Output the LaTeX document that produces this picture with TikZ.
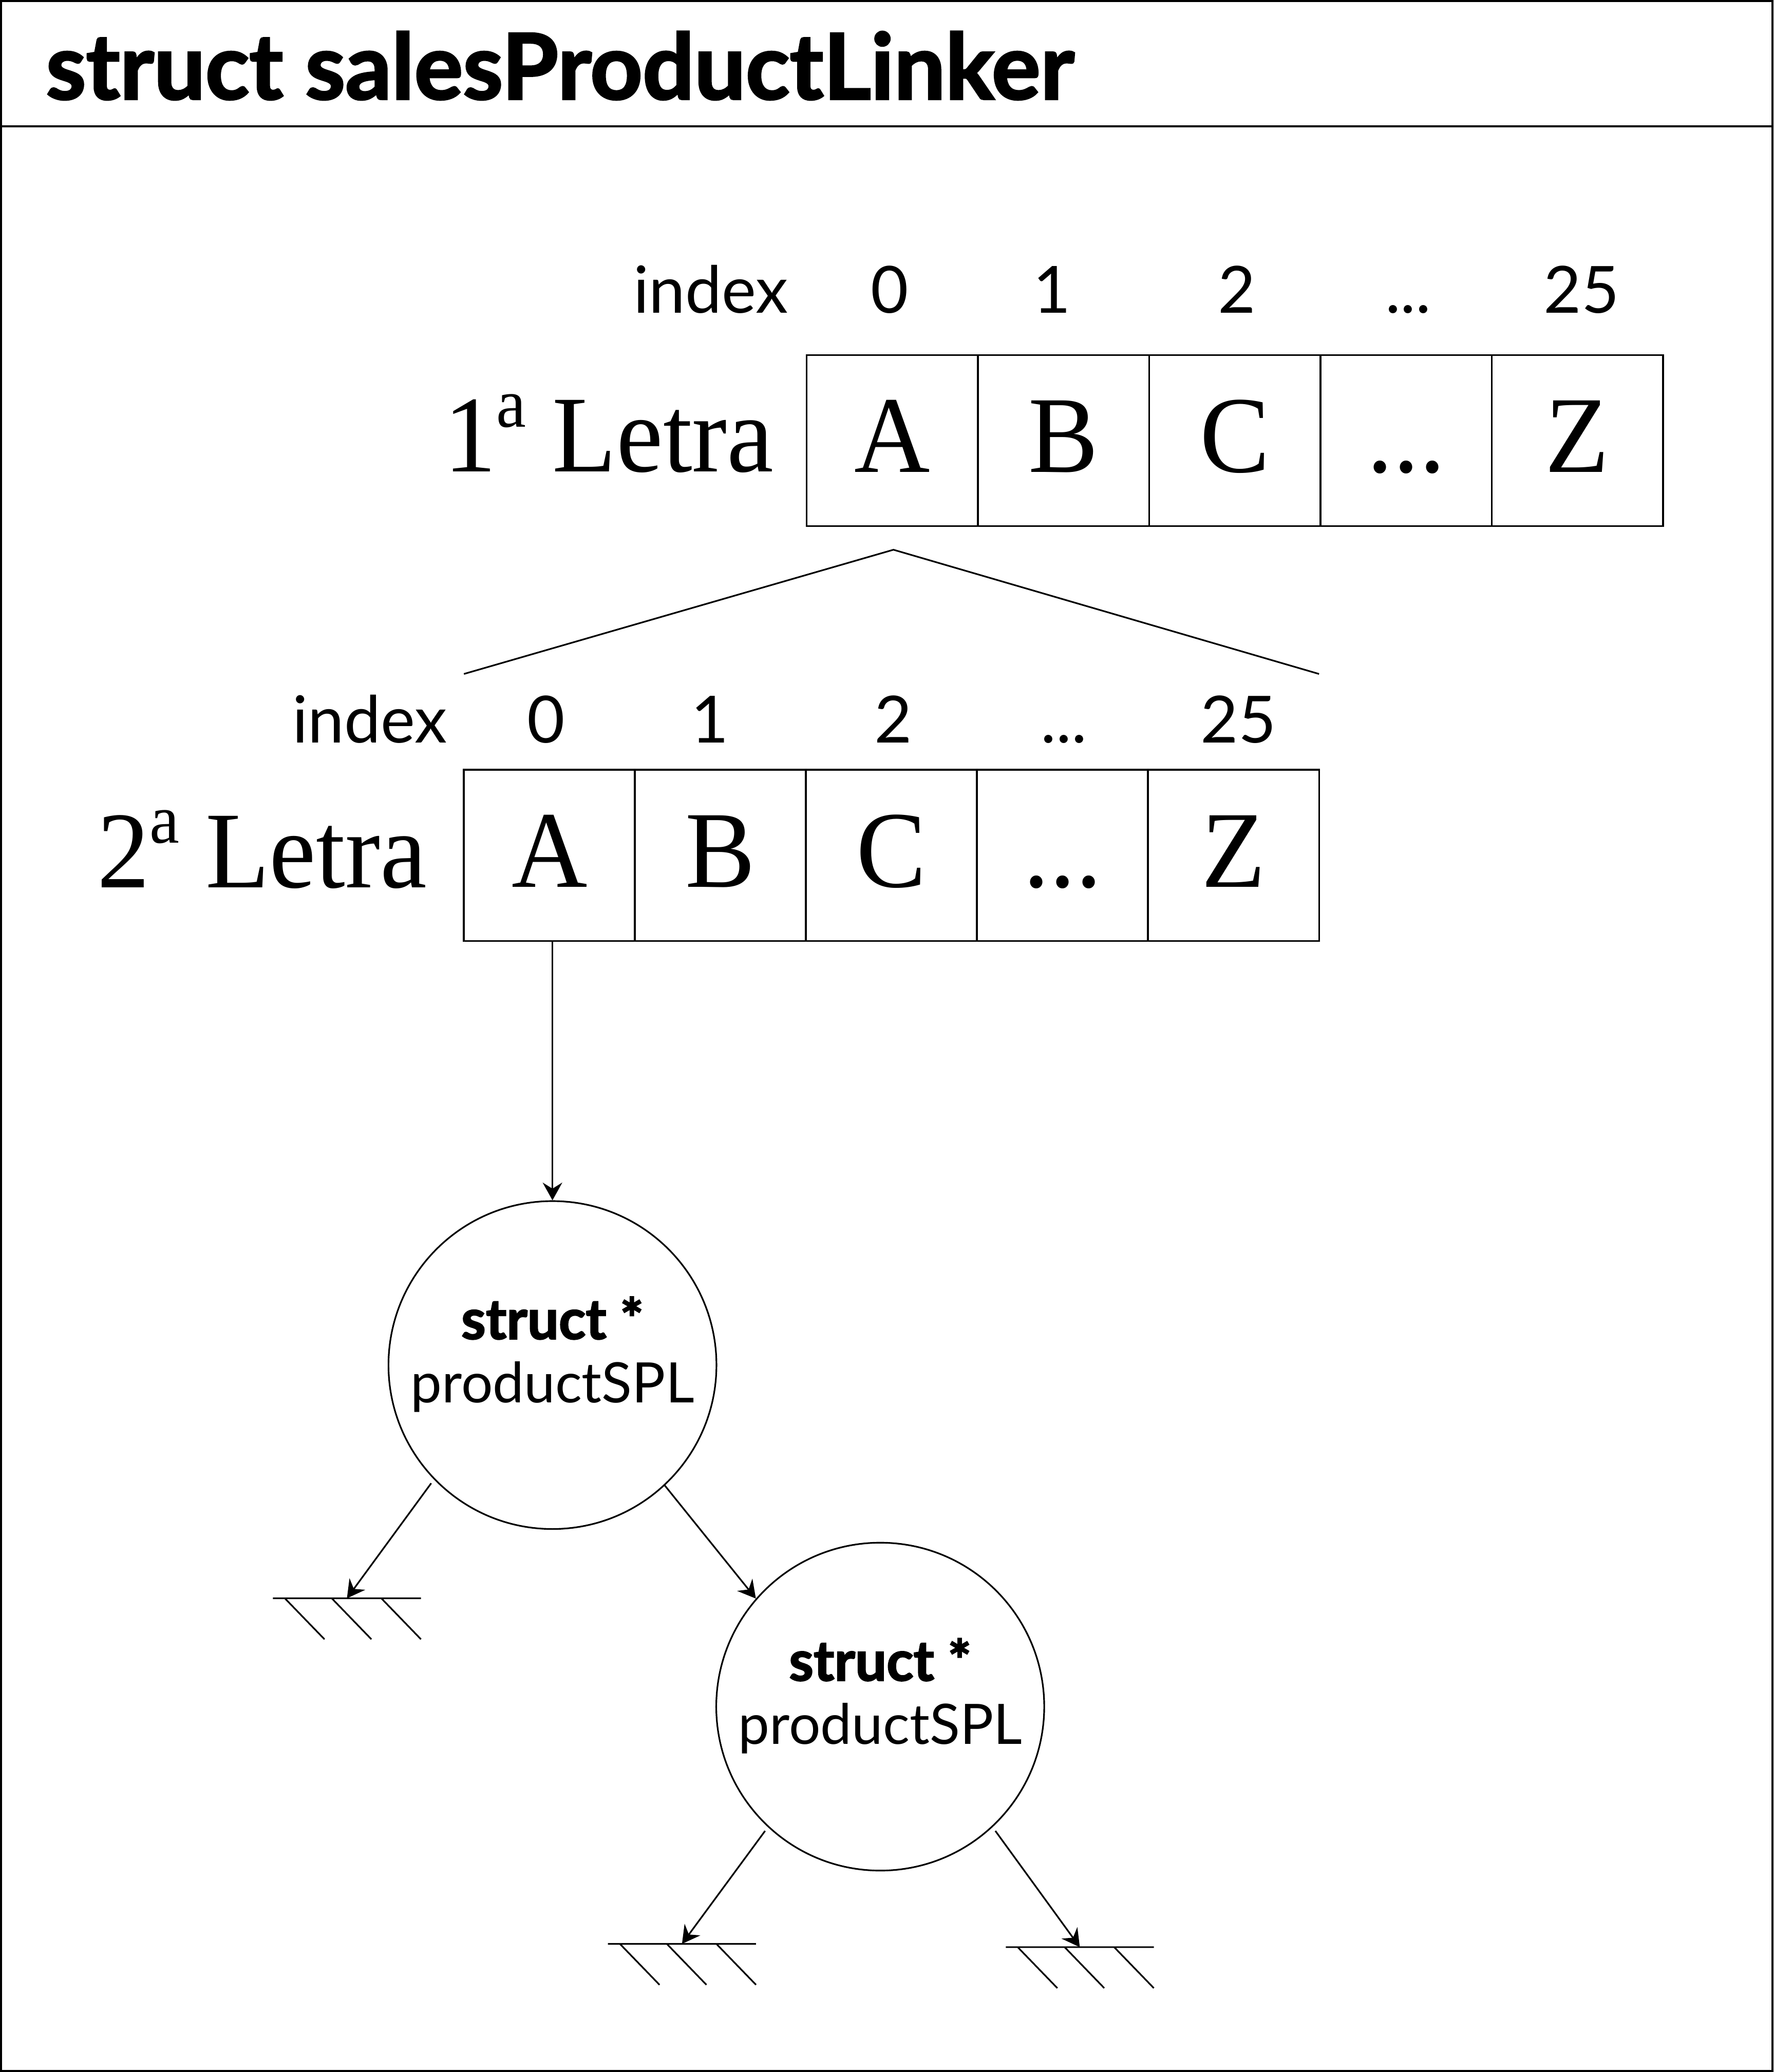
\documentclass[tikz,border=0pt]{standalone}
\usepackage{fontspec}
\setmainfont{Liberation Serif}[FakeStretch=0.96]
\newfontfamily\avenir{Lato}[BoldFeatures={FakeBold=2.2}]
\usetikzlibrary{arrows.meta}

\newcommand{\ordinal}[1]{#1{\fontsize{15}{15}\selectfont\raisebox{9.6pt}{a}}}

\tikzset{
        cell/.style={draw, minimum width=1.295cm, minimum height=1.294cm, inner sep=0pt,
                text height=0.48cm, text depth=0pt, font=\fontsize{23.5}{28}\selectfont},
        idx/.style={anchor=base, inner sep=0pt, font=\avenir\fontsize{14}{16}\selectfont},
        rowname/.style={anchor=base east, inner sep=0pt, font=\fontsize{23.5}{28}\selectfont},
        prod/.style={draw, circle, minimum size=2.48cm, inner sep=0pt, align=center,
                text depth=6.6pt, font=\avenir\fontsize{12}{13.7}\selectfont}
}

\begin{document}
\begin{tikzpicture}[x=0.01cm, y=-0.01cm, line width=0.35pt,
        >={Stealth[length=3.8pt, width=4.2pt, inset=1.3pt]}]
        \useasboundingbox (0, 0) rectangle (1342, 1568);

        % Draw the frame and the title
        \draw[line width=0.45pt] (0.8, 0.8) rectangle (1341.2, 1567.2);
        \draw[line width=0.45pt] (0, 95.5) -- (1342, 95.5);
        \node[anchor=base west, inner sep=0pt, font=\avenir\bfseries\fontsize{19.6}{22}\selectfont]
                (title) at (34.2, 75) {struct salesProductLinker};

        % Draw the first letter array
        \node[idx, anchor=base east] (index1) at (597, 237) {index};
        \node[idx] (i01) at (673, 237) {0};
        \node[idx] (i11) at (796, 237) {1};
        \node[idx] (i21) at (936, 237) {2};
        \node[idx] (idots1) at (1065.5, 237) {...};
        \node[idx] (i251) at (1196.6, 237) {25};

        \node[rowname] (letra1) at (586, 357) {\ordinal{1} Letra};
        \node[cell] (A1) at (675.1, 333.3) {A};
        \node[cell] (B1) at (804.7, 333.3) {B};
        \node[cell] (C1) at (934.3, 333.3) {C};
        \node[cell] (D1) at (1063.9, 333.3) {...};
        \node[cell] (Z1) at (1193.5, 333.3) {Z};

        % Draw the tent from A to the second array
        \coordinate (tentl) at (351, 510);
        \coordinate (tenttop) at (676, 416);
        \coordinate (tentr) at (998, 510);
        \draw (tentl) -- (tenttop) -- (tentr);

        % Draw the second letter array
        \node[idx, anchor=base east] (index2) at (339, 562.2) {index};
        \node[idx] (i02) at (413, 562.2) {0};
        \node[idx] (i12) at (537, 562.2) {1};
        \node[idx] (i22) at (676, 562.2) {2};
        \node[idx] (idots2) at (805, 562.2) {...};
        \node[idx] (i252) at (937, 562.2) {25};

        \node[rowname] (letra2) at (323.5, 671.5) {\ordinal{2} Letra};
        \node[cell] (A2) at (415.7, 647.2) {A};
        \node[cell] (B2) at (545.1, 647.2) {B};
        \node[cell] (C2) at (674.5, 647.2) {C};
        \node[cell] (D2) at (803.9, 647.2) {...};
        \node[cell] (Z2) at (933.3, 647.2) {Z};

        % Draw the tree of products
        \node[prod] (p1) at (418, 1033) {\textbf{struct *}\\productSPL};
        \node[prod] (p2) at (666, 1291.5) {\textbf{struct *}\\productSPL};
        \draw[->] (p1.north |- A2.south) -- (p1.north);
        \draw[->] (p1.313) -- (p2.139);

        % Draw the null ends
        \coordinate (g1) at (262.5, 1209.5);
        \coordinate (g2) at (516, 1471);
        \coordinate (g3) at (817, 1473.5);
        \draw[->, shorten <=1pt] (p1.224) -- (g1);
        \draw[->, shorten <=1pt] (p2.227) -- (g2);
        \draw[->, shorten <=1pt] (p2.313) -- (g3);

        \draw (g1) +(-56, 0) -- +(56, 0)
                +(-47, 0) -- +(-17, 31) +(-11.5, 0) -- +(18.5, 31) +(26, 0) -- +(56, 31);
        \draw (g2) +(-56, 0) -- +(56, 0)
                +(-47, 0) -- +(-17, 31) +(-11.5, 0) -- +(18.5, 31) +(26, 0) -- +(56, 31);
        \draw (g3) +(-56, 0) -- +(56, 0)
                +(-47, 0) -- +(-17, 31) +(-11.5, 0) -- +(18.5, 31) +(26, 0) -- +(56, 31);
\end{tikzpicture}
\end{document}
